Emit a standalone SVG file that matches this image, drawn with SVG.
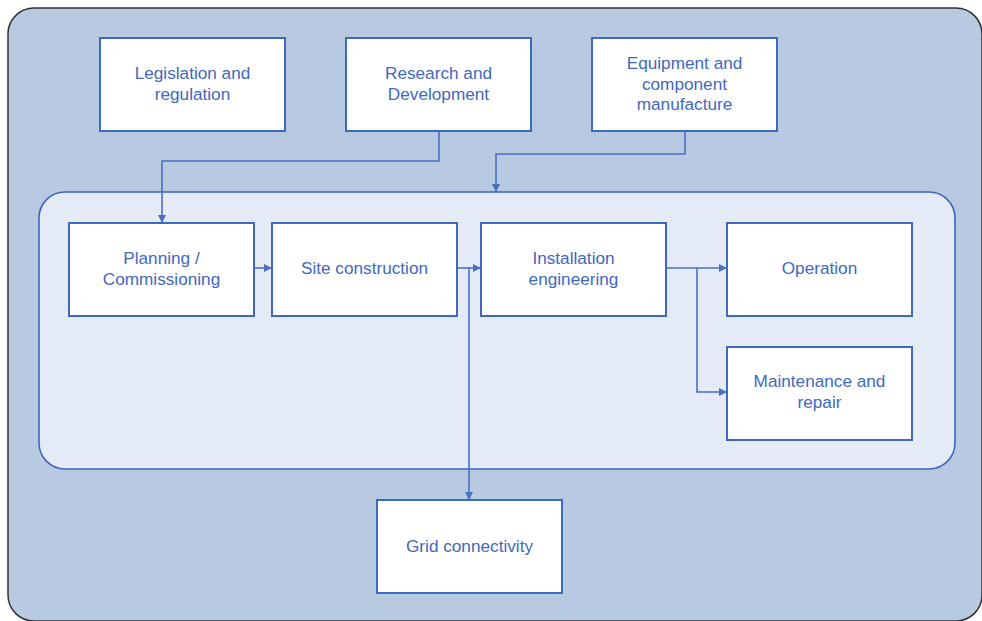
<svg xmlns="http://www.w3.org/2000/svg" width="982" height="621" viewBox="0 0 982 621">
  <defs>
    <marker id="arr" viewBox="0 0 10 10" refX="10" refY="5" markerWidth="8" markerHeight="8" markerUnits="userSpaceOnUse" orient="auto">
      <path d="M0,0 L10,5 L0,10 z" fill="#4a70c2"/>
    </marker>
    <style>
      .box { fill: #ffffff; stroke: #3f68c0; stroke-width: 2; }
      .lbl { font-family: "Liberation Sans", Arial, sans-serif; font-size: 17.2px; fill: #3f68c0; text-anchor: middle; }
      .con { fill: none; stroke: #4a70c2; stroke-width: 1.6; }
    </style>
  </defs>
  <rect width="982" height="621" fill="#ffffff"/>
  <!-- outer panel -->
  <rect x="8" y="8" width="974" height="613" rx="26" ry="26" fill="#b8c9e2" stroke="#333333" stroke-width="1.5"/>
  <!-- inner project-phase container -->
  <rect x="39" y="192" width="916" height="277" rx="26" ry="26" fill="#e4ebf6" stroke="#3d66bf" stroke-width="1.6"/>

  <g id="connectors">
    <path class="con" d="M439,131 V161 H162 V223" marker-end="url(#arr)"/>
    <path class="con" d="M685,131 V154 H496 V192" marker-end="url(#arr)"/>
    <path class="con" d="M254,268 H272" marker-end="url(#arr)"/>
    <path class="con" d="M457,268 H481" marker-end="url(#arr)"/>
    <path class="con" d="M469,268 V500" marker-end="url(#arr)"/>
    <path class="con" d="M666,268 H727" marker-end="url(#arr)"/>
    <path class="con" d="M697,268 V392 H727" marker-end="url(#arr)"/>
  </g>

  <g id="legislation">
    <rect class="box" x="100" y="38" width="185" height="93"/>
    <text class="lbl" x="192.5" y="79">Legislation and</text>
    <text class="lbl" x="192.5" y="100">regulation</text>
  </g>
  <g id="research">
    <rect class="box" x="346" y="38" width="185" height="93"/>
    <text class="lbl" x="438.5" y="79">Research and</text>
    <text class="lbl" x="438.5" y="100">Development</text>
  </g>
  <g id="equipment">
    <rect class="box" x="592" y="38" width="185" height="93"/>
    <text class="lbl" x="684.5" y="69">Equipment and</text>
    <text class="lbl" x="684.5" y="90">component</text>
    <text class="lbl" x="684.5" y="110">manufacture</text>
  </g>
  <g id="planning">
    <rect class="box" x="69" y="223" width="185" height="93"/>
    <text class="lbl" x="161.5" y="264">Planning /</text>
    <text class="lbl" x="161.5" y="285">Commissioning</text>
  </g>
  <g id="site">
    <rect class="box" x="272" y="223" width="185" height="93"/>
    <text class="lbl" x="364.5" y="274">Site construction</text>
  </g>
  <g id="installation">
    <rect class="box" x="481" y="223" width="185" height="93"/>
    <text class="lbl" x="573.5" y="264">Installation</text>
    <text class="lbl" x="573.5" y="285">engineering</text>
  </g>
  <g id="operation">
    <rect class="box" x="727" y="223" width="185" height="93"/>
    <text class="lbl" x="819.5" y="274">Operation</text>
  </g>
  <g id="maintenance">
    <rect class="box" x="727" y="347" width="185" height="93"/>
    <text class="lbl" x="819.5" y="387">Maintenance and</text>
    <text class="lbl" x="819.5" y="408">repair</text>
  </g>
  <g id="grid">
    <rect class="box" x="377" y="500" width="185" height="93"/>
    <text class="lbl" x="469.5" y="552">Grid connectivity</text>
  </g>
</svg>
